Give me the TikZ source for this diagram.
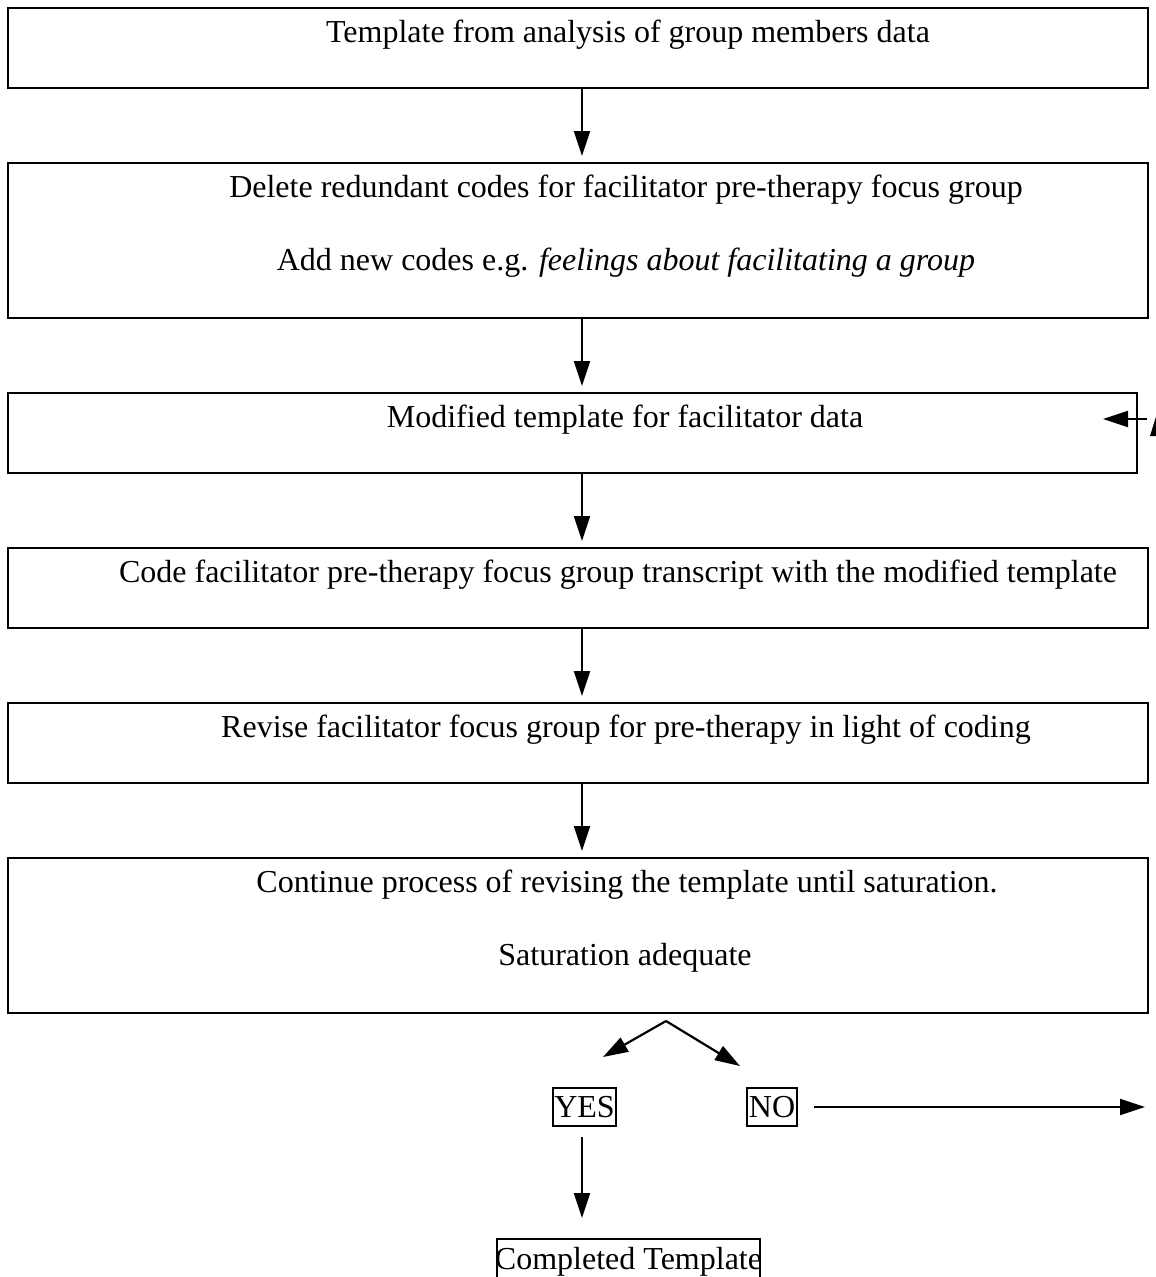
\documentclass[tikz,border=0pt]{standalone}
\usepackage{fontspec}
\setmainfont{Liberation Serif}
\usetikzlibrary{arrows.meta,calc}
\begin{document}
\begin{tikzpicture}[x=1pt,y=-1pt,
  box/.style={draw,line width=2.5pt,inner sep=0pt,outer sep=0pt},
  smallbox/.style={draw,line width=1.8pt,inner sep=0pt,outer sep=0pt,font=\fontsize{32}{38}\selectfont},
  txt/.style={anchor=base,inner sep=0pt,outer sep=0pt,font=\fontsize{32}{38}\selectfont},
  arr/.style={line width=2.2pt,-{Triangle[length=25pt,width=16pt]}}]
\useasboundingbox (0,0) rectangle (1156,1277);
% boxes
\node[box,minimum width=1140pt,minimum height=80pt] (b1) at (578,48) {};
\node[box,minimum width=1140pt,minimum height=155pt] (b2) at (578,240.5) {};
\node[box,minimum width=1129pt,minimum height=80pt] (b3) at (572.5,433) {};
\node[box,minimum width=1140pt,minimum height=80pt] (b4) at (578,588) {};
\node[box,minimum width=1140pt,minimum height=80pt] (b5) at (578,743) {};
\node[box,minimum width=1140pt,minimum height=155pt] (b6) at (578,935.5) {};
% texts
\node[txt] (t1) at (628,42) {Template from analysis of group members data};
\node[txt] (t2a) at (626,197) {Delete redundant codes for facilitator pre-therapy focus group};
\node[txt] (t2b) at (626,270) {Add new codes e.g. \textit{feelings about facilitating a group}};
\node[txt] (t3) at (625,427) {Modified template for facilitator data};
\node[txt] (t4) at (618,582) {Code facilitator pre-therapy focus group transcript with the modified template};
\node[txt] (t5) at (626,737) {Revise facilitator focus group for pre-therapy in light of coding};
\node[txt] (t6a) at (627,892) {Continue process of revising the template until saturation.};
\node[txt] (t6b) at (625,965) {Saturation adequate};
% main arrows
\draw[arr] ($(b1.south)+(4,0)$) -- ($(b2.north)+(4,-7)$);
\draw[arr] ($(b2.south)+(4,0)$) -- ($(b3.north)+(9.5,-7)$);
\draw[arr] ($(b3.south)+(9.5,0)$) -- ($(b4.north)+(4,-7)$);
\draw[arr] ($(b4.south)+(4,0)$) -- ($(b5.north)+(4,-7)$);
\draw[arr] ($(b5.south)+(4,0)$) -- ($(b6.north)+(4,-7)$);
% feedback arrow into box 3
\coordinate (fbs) at (1147,419);
\coordinate (fbe) at (1103,419);
\draw[arr] (fbs) -- (fbe);
\fill (1150,436) -- (1156.5,415) -- (1162,415) -- (1162,436) -- cycle;
% decision
\coordinate (apex) at (666,1021);
\coordinate (yl) at (603,1057);
\coordinate (nr) at (740,1066);
\draw[arr] (apex) -- (nr);
\draw[arr] (apex) -- (yl);
\node[smallbox,minimum width=63pt,minimum height=38pt] (yes) at (584.5,1107) {YES};
\node[smallbox,minimum width=50pt,minimum height=38pt] (no) at (772,1107) {NO};
\coordinate (noend) at (1145,1107);
\draw[arr] ($(no.east)+(17,0)$) -- (noend);
% completed
\node[smallbox,minimum width=263pt,minimum height=80pt] (comp) at (628.5,1279) {};
\node[txt] (ct) at (628.5,1269) {Completed Template};
\draw[arr] ($(yes.south)+(-2.5,11)$) -- ($(comp.north)+(-46.5,-21)$);
\end{tikzpicture}
\end{document}
